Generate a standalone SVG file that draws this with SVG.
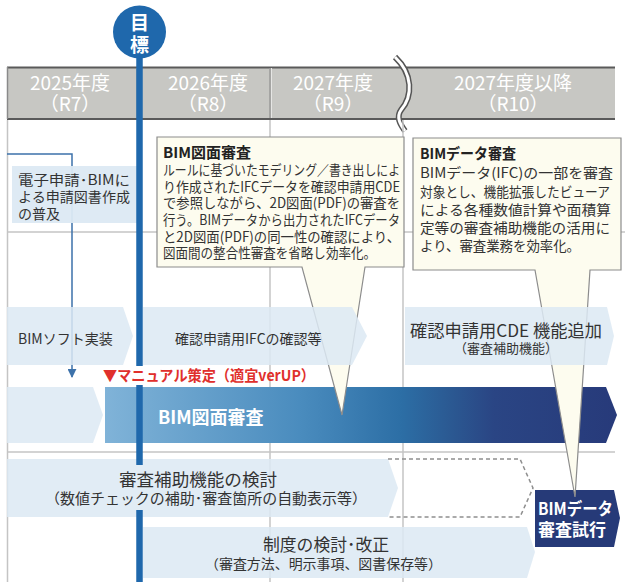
<svg xmlns="http://www.w3.org/2000/svg" width="625" height="582" viewBox="0 0 625 582">
<style>
text{font-family:"Noto Sans CJK JP","Noto Sans",sans-serif;}
.hd{fill:#ffffff;font-size:19px;text-anchor:middle;}
.grid{stroke:#c4c4c4;stroke-width:1.5;fill:none;}
.lb{fill:#dce9f3;fill-opacity:0.85;}
.t{fill:#333;}
.cl{fill:#fdfcef;stroke:#8c8c8c;stroke-width:1.2;}
.ct{fill:#333;font-size:14px;}
.cb{fill:#222;font-size:15px;font-weight:bold;}
.wb{fill:#fff;font-weight:bold;}
</style>
<defs>
<linearGradient id="bar" gradientUnits="userSpaceOnUse" x1="105" y1="0" x2="617" y2="0">
<stop offset="0" stop-color="#80b3d8"/>
<stop offset="0.38" stop-color="#4a8cbe"/>
<stop offset="0.58" stop-color="#2c6ea5"/>
<stop offset="0.67" stop-color="#2b5a93"/>
<stop offset="0.76" stop-color="#2a4584"/>
<stop offset="1" stop-color="#273a7a"/>
</linearGradient>
<marker id="ah" viewBox="0 0 10 10" refX="9" refY="5" markerWidth="9" markerHeight="9" markerUnits="userSpaceOnUse" orient="auto">
<path d="M0,0 L10,5 L0,10 Z" fill="#3d72aa"/>
</marker>
</defs>

<g id="header">
<rect x="7" y="67" width="608" height="52" fill="#c7c7c3"/>
<line x1="7" y1="67.5" x2="615" y2="67.5" stroke="#5a5a5a" stroke-width="2"/>
<line x1="7" y1="119" x2="615" y2="119" stroke="#5a5a5a" stroke-width="2"/>
<line x1="7.5" y1="67" x2="7.5" y2="119" stroke="#8a8a8a" stroke-width="1.5"/>
<line x1="137" y1="68" x2="137" y2="118" stroke="#a8a8a6" stroke-width="1.5"/>
<line x1="270" y1="68" x2="270" y2="118" stroke="#9a9a98" stroke-width="1.5"/>
<line x1="271.5" y1="68" x2="271.5" y2="118" stroke="#e6e6e4" stroke-width="1"/>
<text class="hd" x="70" y="90">2025年度</text>
<text class="hd" x="70" y="111">（R7）</text>
<text class="hd" x="208" y="90">2026年度</text>
<text class="hd" x="208" y="111">（R8）</text>
<text class="hd" x="333" y="90">2027年度</text>
<text class="hd" x="333" y="111">（R9）</text>
<text class="hd" x="513" y="90">2027年度以降</text>
<text class="hd" x="513" y="111">（R10）</text>
<path d="M395,57 C413,74 413,96 401,110 C396,117 400,124 405,131" fill="none" stroke="#555" stroke-width="6"/>
<path d="M395,57 C413,74 413,96 401,110 C396,117 400,124 405,131" fill="none" stroke="#fff" stroke-width="3"/>
</g>

<g id="grid">
<line class="grid" x1="7.5" y1="120" x2="7.5" y2="582"/>
<line class="grid" x1="270" y1="120" x2="270" y2="582"/>
<line class="grid" x1="403" y1="120" x2="403" y2="582"/>
<line class="grid" x1="7" y1="232" x2="625" y2="232"/>
<line class="grid" x1="7" y1="452" x2="615" y2="452"/>
</g>

<g id="connectors">
<path d="M7,154 H72 V377" fill="none" stroke="#3d72aa" stroke-width="1.5" marker-end="url(#ah)"/>
</g>

<g id="n-bimzumen">
<path class="lb" d="M7,387 H93 L103,415 L93,443 H7 Z"/>
<path d="M105,387 H606 L617,415 L606,443 H105 Z" fill="url(#bar)"/>
<text class="wb" x="158" y="424" font-size="18">BIM図面審査</text>
</g>

<g id="n-shikou">
<path d="M535,490 H614 L620,518 L614,547 H535 Z" fill="#263a78"/>
<text class="wb" x="538" y="515" font-size="17" textLength="75" lengthAdjust="spacingAndGlyphs">BIMデータ</text>
<text class="wb" x="538" y="536" font-size="17" textLength="68" lengthAdjust="spacingAndGlyphs">審査試行</text>
</g>

<g id="callout-zumen">
<path class="cl" d="M157,137 H404 V267 H365 L342,415 L302,267 H157 Z"/>
<text class="cb" x="163" y="158">BIM図面審査</text>
<text class="ct" x="163" y="175" textLength="237" lengthAdjust="spacingAndGlyphs">ルールに基づいたモデリング／書き出しによ</text>
<text class="ct" x="163" y="192" textLength="237" lengthAdjust="spacingAndGlyphs">り作成されたIFCデータを確認申請用CDE</text>
<text class="ct" x="163" y="208" textLength="237" lengthAdjust="spacingAndGlyphs">で参照しながら、2D図面(PDF)の審査を</text>
<text class="ct" x="163" y="225" textLength="237" lengthAdjust="spacingAndGlyphs">行う。BIMデータから出力されたIFCデータ</text>
<text class="ct" x="163" y="242" textLength="237" lengthAdjust="spacingAndGlyphs">と2D図面(PDF)の同一性の確認により、</text>
<text class="ct" x="163" y="258" textLength="213" lengthAdjust="spacingAndGlyphs">図面間の整合性審査を省略し効率化。</text>
</g>

<g id="callout-data">
<path class="cl" d="M413,138 H621 V270 H590 L575,497 L535,270 H413 Z"/>
<text class="cb" x="420" y="159" textLength="96" lengthAdjust="spacingAndGlyphs">BIMデータ審査</text>
<text class="ct" x="420" y="178" font-size="13.5" textLength="193" lengthAdjust="spacingAndGlyphs">BIMデータ(IFC)の一部を審査</text>
<text class="ct" x="420" y="197" font-size="13" textLength="190" lengthAdjust="spacingAndGlyphs">対象とし、機能拡張したビューア</text>
<text class="ct" x="420" y="215" font-size="13.5" textLength="191" lengthAdjust="spacingAndGlyphs">による各種数値計算や面積算</text>
<text class="ct" x="420" y="233" font-size="13.5" textLength="190" lengthAdjust="spacingAndGlyphs">定等の審査補助機能の活用に</text>
<text class="ct" x="420" y="251" font-size="13.5" textLength="160" lengthAdjust="spacingAndGlyphs">より、審査業務を効率化。</text>
</g>

<g id="n-denshi">
<rect x="12" y="166" width="126" height="57" fill="#dce9f3" fill-opacity="0.95"/>
<text class="t" x="18" y="185" font-size="14" textLength="112" lengthAdjust="spacingAndGlyphs">電子申請･BIMに</text>
<text class="t" x="18" y="202" font-size="14" textLength="112" lengthAdjust="spacingAndGlyphs">よる申請図書作成</text>
<text class="t" x="18" y="219" font-size="14">の普及</text>
</g>

<g id="n-soft">
<path class="lb" d="M7,307 H123 L133,336 L123,365 H7 Z"/>
<text class="t" x="18" y="344" font-size="14">BIMソフト実装</text>
</g>

<g id="n-ifc">
<path class="lb" d="M143,307 H352 L367,336 L352,365 H143 Z"/>
<text class="t" x="175" y="344" font-size="14">確認申請用IFCの確認等</text>
</g>

<g id="n-cde">
<path class="lb" d="M405,307 H607 L614,336 L607,365 H405 Z"/>
<text class="t" x="506" y="337" font-size="17" text-anchor="middle" textLength="192" lengthAdjust="spacingAndGlyphs">確認申請用CDE 機能追加</text>
<text class="t" x="506" y="353" font-size="13" text-anchor="middle">（審査補助機能）</text>
</g>

<g id="n-manual">
<text x="103" y="381" font-size="15" font-weight="bold" fill="#e0302c" textLength="212" lengthAdjust="spacingAndGlyphs">▼マニュアル策定（適宜verUP）</text>
</g>

<g id="n-hojo">
<path class="lb" d="M7,459 H388 L398,488 L388,517 H7 Z"/>
<text class="t" x="119" y="486" font-size="17.5" textLength="158" lengthAdjust="spacingAndGlyphs">審査補助機能の検討</text>
<text class="t" x="45" y="504" font-size="14.5" textLength="322" lengthAdjust="spacingAndGlyphs">（数値チェックの補助･審査箇所の自動表示等）</text>
</g>

<g id="n-hojo-next">
<path d="M388,459 H520 L533,488 L520,517 H388" fill="none" stroke="#8e8e8e" stroke-width="1.5" stroke-dasharray="4 3"/>
</g>

<g id="n-seido">
<path class="lb" d="M143,527 H527 L535,552 L527,578 H143 Z"/>
<text class="t" x="263" y="551" font-size="17" textLength="126" lengthAdjust="spacingAndGlyphs">制度の検討･改正</text>
<text class="t" x="205" y="569" font-size="13.5" textLength="237" lengthAdjust="spacingAndGlyphs">（審査方法、明示事項、図書保存等）</text>
</g>

<g id="milestone">
<line x1="139.5" y1="56" x2="139.5" y2="366" stroke="#1f68ac" stroke-width="6.5"/>
<line x1="139.5" y1="385" x2="139.5" y2="465" stroke="#1f68ac" stroke-width="6.5"/>
<line x1="139.5" y1="510" x2="139.5" y2="582" stroke="#1f68ac" stroke-width="6.5"/>
<circle cx="139.5" cy="32" r="26.5" fill="#1f68ac"/>
<text class="wb" x="139.5" y="30" font-size="19" text-anchor="middle">目</text>
<text class="wb" x="139.5" y="52" font-size="19" text-anchor="middle">標</text>
</g>
</svg>
